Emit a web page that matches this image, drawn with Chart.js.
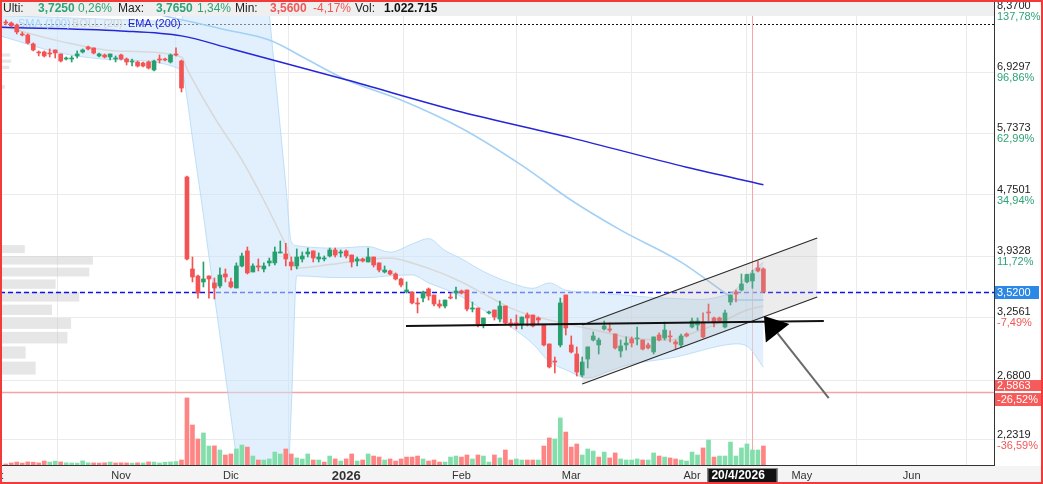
<!DOCTYPE html>
<html>
<head>
<meta charset="utf-8">
<script src="https://cdn.jsdelivr.net/npm/chart.js@4.4.1/dist/chart.umd.min.js"></script>
<style>
  html, body { margin: 0; padding: 0; background: #fff; }
  #wrap { position: relative; width: 1043px; height: 484px; overflow: hidden; }
</style>
</head>
<body>
<div id="wrap"><canvas id="chart" width="1043" height="484"></canvas></div>
<script>
// Candle data, one entry per trading day (index 0 = early Oct 2025, 136 = 20/4/2026)
const opens = [8.089, 8.064, 8.015, 7.796, 7.772, 7.560, 7.375, 7.375, 7.352, 7.421,
  7.330, 7.217, 7.217, 7.285, 7.375, 7.490, 7.467, 7.285, 7.307, 7.262,
  7.217, 7.307, 7.217, 7.151, 7.151, 7.129, 7.151, 6.977, 7.217, 7.217,
  7.151, 7.330, 7.173, 5.017, 3.779, 3.698, 3.631, 3.698, 3.619, 3.586,
  3.721, 3.631, 3.564, 3.814, 3.995, 3.744, 3.814, 3.779, 3.850, 3.850,
  3.970, 3.958, 3.861, 3.814, 3.897, 3.958, 3.995, 3.897, 3.897, 3.933,
  4.007, 3.970, 3.995, 3.945, 3.873, 3.897, 3.861, 3.921, 3.850, 3.744,
  3.756, 3.721, 3.664, 3.520, 3.520, 3.403, 3.455, 3.553, 3.488, 3.392,
  3.371, 3.466, 3.509, 3.531, 3.542, 3.340, 3.351, 3.190, 3.300, 3.330,
  3.239, 3.371, 3.200, 3.200, 3.190, 3.279, 3.279, 3.249, 3.180, 2.999,
  2.845, 2.990, 3.488, 2.990, 2.908, 2.725, 2.863, 3.036, 2.990, 3.141,
  3.141, 3.093, 2.935, 2.990, 3.046, 3.046, 3.036, 2.990, 2.926, 3.083,
  3.055, 3.074, 3.018, 2.990, 3.093, 3.160, 3.180, 3.209, 3.310, 3.249,
  3.249, 3.160, 3.413, 3.520, 3.542, 3.631, 3.642, 3.791, 3.779];
const highs = [8.139, 8.089, 8.039, 7.844, 7.796, 7.583, 7.398, 7.398, 7.444, 7.421,
  7.330, 7.262, 7.285, 7.398, 7.444, 7.513, 7.467, 7.352, 7.330, 7.330,
  7.285, 7.330, 7.240, 7.217, 7.173, 7.151, 7.173, 7.195, 7.307, 7.240,
  7.330, 7.467, 7.195, 5.030, 3.921, 3.709, 3.861, 3.700, 3.675, 3.791,
  3.779, 3.675, 3.850, 3.970, 4.044, 3.838, 3.897, 3.850, 3.909, 4.044,
  4.119, 4.090, 3.921, 4.020, 3.982, 4.031, 3.995, 3.970, 3.933, 4.031,
  4.031, 4.007, 4.007, 3.945, 3.921, 3.909, 4.031, 3.921, 3.850, 3.814,
  3.767, 3.733, 3.675, 3.631, 3.520, 3.455, 3.531, 3.564, 3.488, 3.434,
  3.434, 3.509, 3.575, 3.542, 3.542, 3.413, 3.351, 3.249, 3.320, 3.330,
  3.424, 3.371, 3.239, 3.279, 3.259, 3.300, 3.279, 3.259, 3.180, 2.999,
  2.881, 3.455, 3.488, 3.074, 2.972, 2.881, 2.972, 3.112, 3.055, 3.219,
  3.200, 3.093, 3.036, 3.065, 3.065, 3.160, 3.036, 3.008, 3.065, 3.103,
  3.209, 3.122, 3.036, 3.093, 3.103, 3.249, 3.249, 3.300, 3.392, 3.259,
  3.259, 3.330, 3.488, 3.542, 3.721, 3.721, 3.765, 3.873, 3.791];
const lows = [8.015, 7.966, 7.796, 7.748, 7.560, 7.398, 7.285, 7.262, 7.262, 7.240,
  7.151, 7.195, 7.151, 7.240, 7.352, 7.421, 7.330, 7.262, 7.240, 7.195,
  7.151, 7.195, 7.085, 7.063, 7.041, 7.041, 6.998, 6.955, 7.129, 7.173,
  7.129, 7.285, 6.520, 3.885, 3.631, 3.455, 3.575, 3.455, 3.445, 3.564,
  3.631, 3.564, 3.564, 3.802, 3.721, 3.744, 3.756, 3.744, 3.814, 3.826,
  3.970, 3.814, 3.767, 3.779, 3.861, 3.921, 3.861, 3.861, 3.873, 3.921,
  3.921, 3.921, 3.909, 3.802, 3.814, 3.861, 3.861, 3.802, 3.744, 3.733,
  3.709, 3.653, 3.575, 3.509, 3.392, 3.300, 3.413, 3.434, 3.371, 3.351,
  3.351, 3.445, 3.445, 3.498, 3.320, 3.310, 3.160, 3.151, 3.289, 3.229,
  3.209, 3.180, 3.160, 3.141, 3.141, 3.170, 3.160, 3.180, 2.981, 2.785,
  2.743, 2.972, 3.083, 2.917, 2.717, 2.709, 2.785, 3.027, 2.908, 3.131,
  3.112, 2.953, 2.881, 2.944, 2.972, 2.990, 2.944, 2.953, 2.908, 3.027,
  3.036, 3.018, 2.953, 2.972, 3.065, 3.151, 3.131, 3.055, 3.219, 3.160,
  3.209, 3.151, 3.382, 3.413, 3.531, 3.619, 3.560, 3.744, 3.520];
const closes = [8.064, 7.990, 7.844, 7.772, 7.583, 7.421, 7.352, 7.285, 7.330, 7.352,
  7.173, 7.240, 7.240, 7.330, 7.421, 7.444, 7.352, 7.330, 7.262, 7.330,
  7.240, 7.217, 7.151, 7.173, 7.063, 7.063, 7.019, 7.173, 7.195, 7.195,
  7.307, 7.307, 6.600, 3.897, 3.687, 3.509, 3.664, 3.664, 3.564, 3.709,
  3.687, 3.575, 3.814, 3.933, 3.733, 3.814, 3.802, 3.814, 3.873, 3.982,
  3.982, 3.897, 3.814, 3.921, 3.933, 3.982, 3.909, 3.921, 3.909, 4.007,
  3.945, 3.982, 3.933, 3.861, 3.897, 3.873, 3.921, 3.826, 3.767, 3.767,
  3.721, 3.664, 3.597, 3.542, 3.403, 3.392, 3.520, 3.477, 3.392, 3.371,
  3.434, 3.455, 3.531, 3.509, 3.340, 3.351, 3.190, 3.249, 3.310, 3.259,
  3.371, 3.200, 3.180, 3.180, 3.259, 3.249, 3.170, 3.229, 2.990, 2.794,
  2.837, 3.403, 3.151, 2.926, 2.751, 2.837, 2.972, 3.074, 3.036, 3.170,
  3.131, 2.963, 2.981, 3.008, 3.008, 3.055, 2.953, 2.963, 3.065, 3.036,
  3.131, 3.065, 2.999, 3.074, 3.074, 3.219, 3.219, 3.065, 3.300, 3.200,
  3.219, 3.300, 3.488, 3.498, 3.608, 3.715, 3.725, 3.756, 3.520];
// volume in thousands of shares
const volumes = [70, 140, 200, 130, 210, 190, 140, 270, 200, 260,
  210, 150, 140, 130, 280, 150, 140, 130, 150, 200,
  140, 150, 140, 130, 150, 140, 210, 200, 140, 190,
  210, 230, 340, 4560, 2720, 1770, 2180, 1290, 1300, 1020,
  680, 750, 1090, 1360, 1220, 610, 340, 340, 410, 880,
  750, 1090, 750, 480, 410, 750, 340, 340, 200, 610,
  410, 270, 410, 750, 270, 340, 750, 610, 540, 340,
  410, 270, 410, 540, 540, 610, 410, 270, 340, 200,
  200, 540, 610, 540, 680, 410, 680, 610, 200, 680,
  480, 1020, 340, 410, 340, 340, 340, 340, 1290, 1840,
  1770, 3200, 2240, 1220, 1430, 680, 1090, 950, 540, 880,
  480, 820, 410, 340, 340, 410, 340, 340, 820, 610,
  540, 480, 410, 340, 270, 880, 680, 1160, 1700, 540,
  610, 610, 1560, 610, 1160, 1430, 1023, 1020, 1290];

// Indicators (sampled at trading-day index)
const bandIdx = [-1, 10, 20, 32, 33, 34, 35, 36, 37, 38, 39, 40, 41, 42, 43, 47, 48, 49, 50, 51, 52, 53,
  60, 66, 70, 74, 77, 80, 83, 87, 92, 96, 99, 102, 106, 110, 114, 118, 122, 126, 130, 133, 135, 138];
const bandUpper = [8.25, 8.2, 8.15, 8.1, 9.9, 10, 10, 10, 10, 10, 10, 10, 10, 10, 10, 10, 8.3, 6.95, 5.83, 4.9, 4.11, 4.06,
  4.03, 4.05, 3.98, 4.08, 4.15, 4.0, 3.9, 3.75, 3.62, 3.56, 3.62, 3.54, 3.52, 3.5, 3.48, 3.46, 3.45, 3.44, 3.47, 3.55, 3.7, 3.86];
const bandLower = [7.75, 7.35, 7.2, 6.98, 6.4, 5.65, 5.02, 4.46, 3.93, 3.48, 3.08, 2.725, 2.4, 2.12, 1.9, 1.5, 1.5, 1.5, 1.5, 1.7, 2.45, 3.7,
  3.68, 3.68, 3.7, 3.71, 3.62, 3.55, 3.47, 3.33, 3.16, 3.0, 2.84, 2.77, 2.7, 2.76, 2.82, 2.85, 2.88, 2.93, 2.98, 3.0, 2.98, 2.79];
const bollMidIdx = [-1, 10, 20, 32, 33, 38, 43, 47, 51, 53, 59, 66, 70, 74, 79, 83, 88, 92, 96, 99, 103, 109, 113, 117, 121, 125, 130, 135, 138];
const bollMid = [8.0, 7.62, 7.4, 7.26, 7.0, 6.03, 5.29, 4.67, 4.07, 3.79, 3.83, 3.89, 3.91, 3.85, 3.74, 3.63, 3.47, 3.35, 3.27, 3.23,
  3.18, 3.11, 3.065, 3.04, 3.036, 3.10, 3.20, 3.33, 3.37];
const smaIdx = [-1, 20, 30, 40, 48, 55, 62, 72, 83, 94, 103, 112, 123, 131, 133, 138];
const sma100 = [9.0, 8.5, 8.21, 7.9, 7.65, 7.2, 6.77, 6.36, 5.83, 5.2, 4.67, 4.26, 3.86, 3.51, 3.434, 3.434];
const emaIdx = [-1, 21, 32, 41, 62, 83, 103, 124, 138];
const ema200 = [7.96, 7.87, 7.75, 7.45, 6.77, 6.13, 5.66, 5.17, 4.90];

// Volume profile (price bin centre, volume in thousands)
const profileStep = 0.137;
const profilePrices = [2.785, 2.922, 3.059, 3.196, 3.333, 3.470, 3.607, 3.744, 3.881, 4.018, 6.621, 7.032, 7.169, 7.306];
const profileVolume = [370, 260, 720, 760, 550, 850, 590, 960, 1000, 250, 30, 80, 100, 90];

// Axis ticks
const monthIdx = [-2, 21, 41, 62, 83, 103, 125, 145, 165];
const monthLabels = ['Oct', 'Nov', 'Dic', '2026', 'Feb', 'Mar', 'Abr', 'May', 'Jun'];
const priceTicks = [8.37, 6.9297, 5.7373, 4.7501, 3.9328, 3.2561, 2.68, 2.2319];
const priceTickLabels = ['8,3700', '6,9297', '5,7373', '4,7501', '3,9328', '3,2561', '2,6800', '2,2319'];
const pctTickLabels = ['137,78%', '96,86%', '62,99%', '34,94%', '11,72%', '-7,49%', '-23,86%', '-36,59%'];

// Drawings
const lastPrice = 3.52, lastPriceLabel = '3,5200';
const lowMark = 2.5863, lowMarkLabels = ['2,5863', '-26,52%'];
const topMark = 8.05;
const cursorIdx = 136, cursorLabel = '20/4/2026';
const channelIdx = [105, 147.8];
const channelTop = [3.18, 4.157];
const channelBottom = [2.651, 3.466];
const supportIdx = [72.9, 149.0];
const supportPrice = [3.170, 3.219];
const arrowIdx = [149.9, 138.1];
const arrowPrice = [2.539, 3.269];

const FONT = '"Liberation Sans", Arial, sans-serif';
const UP = '#26a06f', DOWN = '#f35353';
const VUP = '#82dfac', VDOWN = '#ff8585';
const GREEN_TXT = '#2ea376', RED_TXT = '#f15757';

const pts = (xs, ys) => xs.map((k, i) => ({ x: k, y: ys[i] }));
const bodyColors = closes.map((c, i) => (c >= opens[i] ? UP : DOWN));
const volColors = closes.map((c, i) => (c >= (i ? closes[i - 1] : opens[i]) ? VUP : VDOWN));

const overlay = {
    id: 'overlay',
    beforeDraw(chart) {
        const { ctx, width, height, chartArea: a } = chart;
        ctx.save();
        ctx.fillStyle = '#fff';
        ctx.fillRect(0, 0, width, height);
        ctx.fillStyle = '#f4f4f4';
        ctx.fillRect(0, a.bottom + 1, width, height - a.bottom);
        ctx.restore();
    },
    beforeDatasetsDraw(chart) {
        const { ctx, chartArea: a, scales: { x, y, xProf } } = chart;
        ctx.save();
        ctx.beginPath();
        ctx.rect(a.left, a.top, a.right - a.left, a.bottom - a.top);
        ctx.clip();
        // volume profile
        ctx.fillStyle = 'rgba(200,200,200,0.45)';
        profilePrices.forEach((p, i) => {
            const top = y.getPixelForValue(p + profileStep / 2) + 1.5;
            const bot = y.getPixelForValue(p - profileStep / 2) - 1.5;
            const w = xProf.getPixelForValue(profileVolume[i]) - xProf.getPixelForValue(0);
            ctx.fillRect(a.left + 2, top, w, bot - top);
        });
        // horizontal markers
        const hline = (price, color, width, dash) => {
            const py = Math.round(y.getPixelForValue(price)) + 0.5;
            ctx.strokeStyle = color;
            ctx.lineWidth = width;
            ctx.setLineDash(dash);
            ctx.beginPath();
            ctx.moveTo(a.left, py);
            ctx.lineTo(a.right, py);
            ctx.stroke();
        };
        hline(topMark, '#111', 1, [2, 2]);
        hline(lowMark, '#f6a3a3', 1.5, []);
        hline(lastPrice, '#1010f0', 1.5, [5, 3]);
        ctx.setLineDash([]);
        // cursor
        const cx = Math.round(x.getPixelForValue(cursorIdx)) + 0.5;
        ctx.strokeStyle = '#f7a5a5';
        ctx.lineWidth = 1;
        ctx.beginPath();
        ctx.moveTo(cx, a.top);
        ctx.lineTo(cx, a.bottom);
        ctx.stroke();
        ctx.restore();
    },
    afterDatasetsDraw(chart) {
        const { ctx, chartArea: a, scales: { x, y } } = chart;
        ctx.save();
        ctx.beginPath();
        ctx.rect(a.left, a.top, a.right - a.left, a.bottom - a.top);
        ctx.clip();
        // trend channel
        const c0 = x.getPixelForValue(channelIdx[0]), c1 = x.getPixelForValue(channelIdx[1]);
        const t0 = y.getPixelForValue(channelTop[0]), t1 = y.getPixelForValue(channelTop[1]);
        const b0 = y.getPixelForValue(channelBottom[0]), b1 = y.getPixelForValue(channelBottom[1]);
        ctx.fillStyle = 'rgba(180,180,180,0.25)';
        ctx.beginPath();
        ctx.moveTo(c0, t0); ctx.lineTo(c1, t1); ctx.lineTo(c1, b1); ctx.lineTo(c0, b0);
        ctx.closePath();
        ctx.fill();
        ctx.strokeStyle = '#2a2a2a';
        ctx.lineWidth = 1.2;
        ctx.beginPath();
        ctx.moveTo(c0, t0); ctx.lineTo(c1, t1);
        ctx.moveTo(c0, b0); ctx.lineTo(c1, b1);
        ctx.stroke();
        // support line
        ctx.strokeStyle = '#111';
        ctx.lineWidth = 2;
        ctx.beginPath();
        ctx.moveTo(x.getPixelForValue(supportIdx[0]), y.getPixelForValue(supportPrice[0]));
        ctx.lineTo(x.getPixelForValue(supportIdx[1]), y.getPixelForValue(supportPrice[1]));
        ctx.stroke();
        // arrow
        const ax0 = x.getPixelForValue(arrowIdx[0]), ay0 = y.getPixelForValue(arrowPrice[0]);
        const ax1 = x.getPixelForValue(arrowIdx[1]), ay1 = y.getPixelForValue(arrowPrice[1]);
        const len = Math.hypot(ax1 - ax0, ay1 - ay0);
        const ux = (ax1 - ax0) / len, uy = (ay1 - ay0) / len;
        const headLen = 22, headHalf = 15;
        const bx = ax1 - ux * headLen, by = ay1 - uy * headLen;
        ctx.strokeStyle = '#6a6a6a';
        ctx.lineWidth = 2;
        ctx.beginPath();
        ctx.moveTo(ax0, ay0); ctx.lineTo(bx, by);
        ctx.stroke();
        ctx.fillStyle = '#000';
        ctx.beginPath();
        ctx.moveTo(ax1, ay1);
        ctx.lineTo(bx - uy * headHalf, by + ux * headHalf);
        ctx.lineTo(bx + uy * headHalf, by - ux * headHalf);
        ctx.closePath();
        ctx.fill();
        ctx.restore();
    },
    afterDraw(chart) {
        const { ctx, width, height, chartArea: a, scales: { x, y } } = chart;
        ctx.save();
        // header strip
        ctx.fillStyle = '#efefef';
        ctx.fillRect(0, 0, a.right, 16);
        ctx.textBaseline = 'middle';
        const header = [
            ['Ulti:', 3, '#222', ''], ['3,7250', 38, GREEN_TXT, 'bold '], ['0,26%', 78, GREEN_TXT, ''],
            ['Max:', 118, '#222', ''], ['3,7650', 156, GREEN_TXT, 'bold '], ['1,34%', 197, GREEN_TXT, ''],
            ['Min:', 235, '#222', ''], ['3,5600', 270, RED_TXT, 'bold '], ['-4,17%', 313, RED_TXT, ''],
            ['Vol:', 355, '#222', ''], ['1.022.715', 384, '#111', 'bold ']
        ];
        header.forEach(([t, px, col, w]) => {
            ctx.font = `${w}12px ${FONT}`;
            ctx.fillStyle = col;
            ctx.fillText(t, px, 8.5);
        });
        // legend
        ctx.font = `11px ${FONT}`;
        [['SMA (100)', 18, '#a7d2f5'], ['BOLL (20)', 72, '#d2d2d2'], ['EMA (200)', 128, '#2323d8']].forEach(([t, px, col]) => {
            ctx.fillStyle = col;
            ctx.fillText(t, px, 24);
        });
        // right axis labels
        const lx = a.right + 3;
        ctx.font = `11px ${FONT}`;
        priceTicks.forEach((v, i) => {
            const py = y.getPixelForValue(v);
            ctx.fillStyle = '#222';
            ctx.fillText(priceTickLabels[i], lx, py - 5);
            ctx.fillStyle = pctTickLabels[i].startsWith('-') ? RED_TXT : GREEN_TXT;
            ctx.fillText(pctTickLabels[i], lx, py + 6);
        });
        // last price tag
        const lp = y.getPixelForValue(lastPrice);
        ctx.fillStyle = '#2b88e6';
        ctx.fillRect(a.right + 1, lp - 6, 44, 13);
        ctx.fillStyle = '#fff';
        ctx.fillText(lastPriceLabel, lx, lp + 0.5);
        // low marker tags
        const lm = y.getPixelForValue(lowMark);
        ctx.fillStyle = '#f65a5a';
        ctx.fillRect(a.right + 1, lm - 12, 46, 11);
        ctx.fillRect(a.right + 1, lm + 1, 46, 13);
        ctx.fillStyle = '#fff';
        ctx.fillText(lowMarkLabels[0], lx, lm - 6);
        ctx.fillText(lowMarkLabels[1], lx, lm + 8);
        // cursor date tag
        const cx = x.getPixelForValue(cursorIdx);
        ctx.fillStyle = '#111';
        ctx.fillRect(cx - 45, a.bottom + 3, 70, 15);
        ctx.strokeStyle = '#888';
        ctx.lineWidth = 1;
        ctx.strokeRect(cx - 44.5, a.bottom + 3.5, 69, 14);
        ctx.fillStyle = '#fff';
        ctx.font = `bold 12px ${FONT}`;
        ctx.fillText(cursorLabel, cx - 41, a.bottom + 11);
        // frame
        ctx.strokeStyle = '#f23a3a';
        ctx.lineWidth = 2;
        ctx.strokeRect(1, 1, width - 2, height - 2);
        ctx.restore();
    }
};

const lineDs = (label, xs, ys, color, width, order, extra) => Object.assign({
    type: 'line', label, data: pts(xs, ys), borderColor: color, borderWidth: width,
    pointRadius: 0, fill: false, cubicInterpolationMode: 'monotone', order
}, extra || {});

new Chart(document.getElementById('chart'), {
    type: 'bar',
    data: {
        datasets: [
            lineDs('BOLL up', bandIdx, bandUpper, 'rgba(170,212,245,0.7)', 1, 20,
                { fill: '+1', backgroundColor: 'rgba(200,228,250,0.55)' }),
            lineDs('BOLL low', bandIdx, bandLower, 'rgba(170,212,245,0.7)', 1, 19),
            lineDs('BOLL (20)', bollMidIdx, bollMid, '#d8d8d8', 1.5, 18),
            lineDs('SMA (100)', smaIdx, sma100, '#a3d0f5', 1.6, 17),
            lineDs('EMA (200)', emaIdx, ema200, '#2626d6', 1.5, 16),
            {
                type: 'bar', label: 'Vol', yAxisID: 'yVol',
                data: volumes.map((v, i) => ({ x: i, y: v })),
                backgroundColor: volColors, barThickness: 4, grouped: false, order: 10
            },
            {
                type: 'bar', label: 'wick',
                data: lows.map((l, i) => ({ x: i, y: [l, highs[i]] })),
                backgroundColor: bodyColors, barThickness: 1, grouped: false, minBarLength: 1, order: 2
            },
            {
                type: 'bar', label: 'body',
                data: opens.map((o, i) => ({ x: i, y: [Math.min(o, closes[i]), Math.max(o, closes[i])] })),
                backgroundColor: bodyColors, barThickness: 4, grouped: false, minBarLength: 1, order: 1
            }
        ]
    },
    options: {
        responsive: false,
        animation: false,
        devicePixelRatio: 1,
        layout: { padding: 0 },
        plugins: { legend: { display: false }, tooltip: { enabled: false } },
        scales: {
            x: {
                type: 'linear', position: 'bottom', min: -1.0565, max: 180.0, offset: false, bounds: 'data',
                afterBuildTicks: s => { s.ticks = monthIdx.map(v => ({ value: v })); },
                afterFit: s => { s.height = 19; s.paddingLeft = 0; s.paddingRight = 0; },
                grid: { color: '#ebebeb', drawTicks: false },
                border: { color: '#333' },
                ticks: {
                    autoSkip: false, maxRotation: 0, padding: 4, color: '#333',
                    callback: (v, i) => monthLabels[i],
                    font: c => (c.index === 3 ? { family: FONT, size: 13, weight: 'bold' } : { family: FONT, size: 11 })
                }
            },
            y: {
                type: 'logarithmic', position: 'right', min: 2.0655, max: 8.656, bounds: 'data',
                afterBuildTicks: s => { s.ticks = priceTicks.map(v => ({ value: v })); },
                afterFit: s => { s.width = 49; s.paddingTop = 0; s.paddingBottom = 0; },
                grid: { color: '#ebebeb', drawTicks: false },
                border: { color: '#333' },
                ticks: { display: false }
            },
            yVol: { type: 'linear', axis: 'y', display: false, min: 0, max: 31620 },
            xProf: { type: 'linear', axis: 'x', display: false, min: 0, max: 9940 }
        }
    },
    plugins: [overlay]
});
</script>
</body>
</html>
